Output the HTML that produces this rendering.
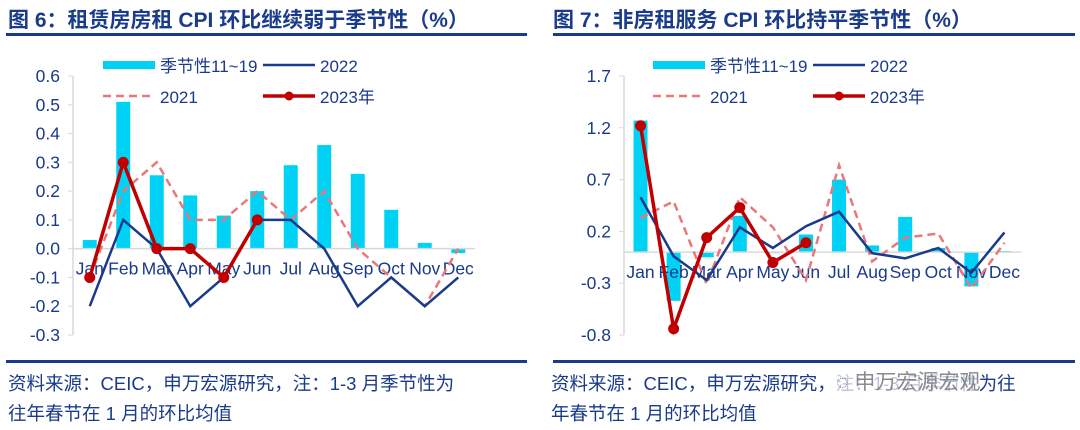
<!DOCTYPE html>
<html><head><meta charset="utf-8">
<style>
body{margin:0;width:1080px;height:430px;background:#fff;overflow:hidden;font-family:"Liberation Sans","Noto Sans CJK SC",sans-serif;}
.t{position:absolute;color:#1a3a8a;white-space:nowrap}
.title{font-weight:bold;font-size:21px;top:4px}
.rule{position:absolute;height:3px;background:#1a3a8a}
.src{font-size:18.5px}
svg{position:absolute;left:0;top:0}
</style></head><body>
<div class="t title" style="left:8px">图 6：租赁房房租 CPI 环比继续弱于季节性（%）</div>
<div class="t title" style="left:553px">图 7：非房租服务 CPI 环比持平季节性（%）</div>
<div class="rule" style="left:6px;width:521px;top:33px"></div>
<div class="rule" style="left:553px;width:522px;top:33px"></div>
<div class="rule" style="left:6px;width:521px;top:360px"></div>
<div class="rule" style="left:553px;width:522px;top:360px"></div>
<div class="t src" style="left:8px;top:370px">资料来源：CEIC，申万宏源研究，注：1-3 月季节性为</div>
<div class="t src" style="left:8px;top:400px">往年春节在 1 月的环比均值</div>
<div class="t src" style="left:551px;top:370px">资料来源：CEIC，申万宏源研究，注：1-3 月季节性为往</div>
<div class="t src" style="left:551px;top:400px">年春节在 1 月的环比均值</div>
<div class="t" style="left:836px;top:366px;font-size:21px;color:rgba(110,110,110,0.8);background:rgba(255,255,255,0.7)">◌ 申万宏源宏观</div>
<svg id="s" width="1080" height="430"></svg>
<script>
const months=["Jan","Feb","Mar","Apr","May","Jun","Jul","Aug","Sep","Oct","Nov","Dec"];
const leftTicks=[0.6,0.5,0.4,0.3,0.2,0.1,0.0,-0.1,-0.2,-0.3];
const leftSeasonal=[0.03,0.51,0.255,0.185,0.115,0.2,0.29,0.36,0.26,0.135,0.02,-0.015];
const left2022=[-0.2,0.1,0,-0.2,-0.1,0.1,0.1,0,-0.2,-0.1,-0.2,-0.1];
const left2021=[-0.1,0.2,0.3,0.1,0.1,0.2,0.1,0.2,0,-0.1,-0.2,0];
const left2023=[-0.1,0.3,0,0,-0.1,0.1];
const rightTicks=[1.7,1.2,0.7,0.2,-0.3,-0.8];
const rightSeasonal=[1.27,-0.47,-0.05,0.35,-0.01,0.17,0.70,0.064,0.34,0.04,-0.33,0.01];
const right2022=[0.53,-0.04,-0.27,0.24,0.04,0.25,0.39,-0.01,-0.06,0.04,-0.2,0.19];
const right2021=[0.33,0.49,-0.31,0.53,0.24,-0.27,0.84,-0.09,0.14,0.18,-0.35,0.09];
const right2023=[1.22,-0.74,0.14,0.43,-0.1,0.09];
const NS="http://www.w3.org/2000/svg";
const svg=document.getElementById('s');
function mk(tag,attrs){const e=document.createElementNS(NS,tag);for(const k in attrs)e.setAttribute(k,attrs[k]);svg.appendChild(e);return e;}
function draw(p,ticks,fmt,seas,s22,s21,s23){
  const y=v=>p.y0-(v-ticks[ticks.length-1])*(p.y0-p.y1)/(ticks[0]-ticks[ticks.length-1]);
  const bw=(p.x1-p.x0)/months.length;
  const x=i=>p.x0+bw*(i+0.5);
  let e=mk('line',{x1:p.x0,y1:p.y1,x2:p.x0,y2:p.y0,stroke:'#d9d9d9','stroke-width':1.5});
  
  ticks.forEach(t=>{
    let l=mk('line',{x1:p.x0-5,y1:y(t),x2:p.x0,y2:y(t),stroke:'#d9d9d9'});
    
    let tx=mk('text',{x:p.x0-13,y:y(t)+6,'text-anchor':'end','font-size':17.5,fill:'#1a3a8a'});tx.textContent=fmt(t);
    
  });
  seas.forEach((v,i)=>{
    let r=mk('rect',{x:x(i)-7,y:Math.min(y(v),y(0)),width:14,height:Math.abs(y(v)-y(0)),fill:'#00d2f5'});
    
  });
  e=mk('line',{x1:p.x0,y1:y(0),x2:p.x1,y2:y(0),stroke:'#d9d9d9','stroke-width':1.5});
  
  months.forEach((m,i)=>{
    let tx=mk('text',{x:x(i),y:y(0)+26,'text-anchor':'middle','font-size':17.5,fill:'#1a3a8a'});tx.textContent=m;
    
  });
  const pts=a=>a.map((v,i)=>x(i)+','+y(v)).join(' ');
  let l21=mk('polyline',{points:pts(s21),fill:'none',stroke:'#e8787a','stroke-width':2.5,'stroke-dasharray':'8,5'});
  
  let l22=mk('polyline',{points:pts(s22),fill:'none',stroke:'#1a3a8a','stroke-width':2.5});
  
  let l23=mk('polyline',{points:pts(s23),fill:'none',stroke:'#c00000','stroke-width':3.5});
  
  s23.forEach((v,i)=>{let c=mk('circle',{cx:x(i),cy:y(v),r:5.5,fill:'#c00000'});
    });
  const L=p.lx;
  let a=mk('rect',{x:L,y:61,width:52,height:8,fill:'#00d2f5'});
  let b=mk('line',{x1:L+160,y1:65,x2:L+212,y2:65,stroke:'#1a3a8a','stroke-width':2.5});
  let c=mk('line',{x1:L,y1:96,x2:L+52,y2:96,stroke:'#e8787a','stroke-width':2.5,'stroke-dasharray':'8,5'});
  let d=mk('line',{x1:L+160,y1:96,x2:L+212,y2:96,stroke:'#c00000','stroke-width':3.5});
  let dc=mk('circle',{cx:L+186,cy:96,r:4.5,fill:'#c00000'});
  [["季节性11~19",L+57,72],["2022",L+217,72],["2021",L+57,103],["2023年",L+217,103]].forEach(q=>{
    let t=mk('text',{x:q[1],y:q[2],'font-size':17,fill:'#1a3a8a'});t.textContent=q[0];
    
  });
}
draw({id:'left',x0:73,x1:475,y0:335,y1:76,lx:103},leftTicks,v=>v.toFixed(1),leftSeasonal,left2022,left2021,left2023);
draw({id:'right',x0:624,x1:1021,y0:335,y1:76,lx:653},rightTicks,v=>v.toFixed(1),rightSeasonal,right2022,right2021,right2023);
</script>
</body></html>
